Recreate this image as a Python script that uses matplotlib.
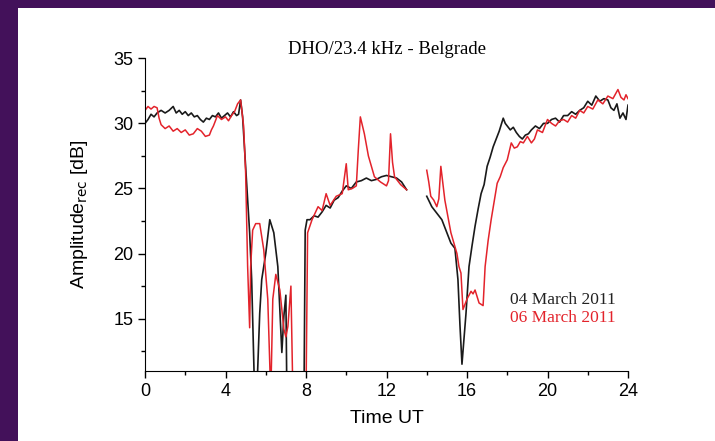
import numpy as np
import matplotlib
matplotlib.use('Agg')
import matplotlib.pyplot as plt
from matplotlib.patches import Rectangle
from matplotlib.ticker import MultipleLocator

# 04 March 2011 (black)
t_mar04 = [0.0, 0.15, 0.3, 0.45, 0.6, 0.8, 1.0, 1.2, 1.4, 1.55, 1.7, 1.85, 2.0, 2.15, 2.3, 2.45,
           2.6, 2.75, 2.9, 3.05, 3.2, 3.35, 3.5, 3.65, 3.8, 3.95, 4.1, 4.25, 4.4, 4.55, 4.65,
           4.75, 4.85, 5.0, 5.1, 5.2, 5.3, 5.45, 5.55, 5.7, 5.8, 6.0, 6.2, 6.4, 6.6, 6.8, 6.9,
           7.0, 7.05, 7.9, 7.96, 8.05, 8.2, 8.4, 8.6, 8.8, 9.0, 9.2, 9.4, 9.6, 9.8, 10.0, 10.25,
           10.5, 10.75, 11.0, 11.25, 11.5, 11.75, 12.0, 12.25, 12.5, 12.75, 13.0, 13.5,
           14.0, 14.25, 14.5, 14.75, 15.0, 15.2, 15.4, 15.55, 15.65, 15.75, 15.85, 15.95, 16.1,
           16.25, 16.4, 16.55, 16.7, 16.85, 17.0, 17.15, 17.3, 17.45, 17.6, 17.7, 17.8, 17.9,
           18.0, 18.15, 18.3, 18.45, 18.6, 18.75, 18.9, 19.05, 19.2, 19.4, 19.6, 19.8, 20.0,
           20.2, 20.4, 20.6, 20.8, 21.0, 21.2, 21.4, 21.6, 21.8, 22.0, 22.2, 22.4, 22.6, 22.8,
           23.0, 23.15, 23.3, 23.45, 23.6, 23.75, 23.9, 24.0]
y_mar04 = [30.0, 30.3, 30.7, 30.5, 30.8, 31.0, 30.8, 31.0, 31.3, 30.8, 31.0, 30.7, 30.9, 30.6,
           30.8, 30.5, 30.6, 30.3, 30.1, 30.4, 30.3, 30.6, 30.5, 30.8, 30.4, 30.6, 30.8, 30.5,
           30.9, 30.6, 30.7, 31.8, 30.5, 26.7, 24.1, 21.6, 18.0, 9.0, 9.0, 15.4, 18.0, 20.0,
           22.6, 21.6, 19.0, 12.4, 15.2, 16.8, 9.0, 9.0, 21.8, 22.6, 22.6, 22.9, 22.8, 23.2,
           23.7, 23.5, 24.1, 24.3, 24.8, 25.2, 25.0, 25.5, 25.6, 25.8, 25.6, 25.7, 25.9, 26.0,
           25.9, 25.8, 25.5, 24.9, np.nan,
           24.4, 23.6, 23.1, 22.6, 21.6, 20.8, 20.4, 18.0, 14.5, 11.5, 13.5, 15.4, 19.0,
           20.6, 22.1, 23.4, 24.6, 25.3, 26.7, 27.4, 28.2, 28.8, 29.4, 29.9, 30.4, 30.0,
           29.8, 29.5, 29.7, 29.3, 29.0, 28.8, 29.1, 29.2, 29.5, 29.8, 29.6, 30.0, 30.0,
           30.3, 30.4, 30.1, 30.6, 30.6, 30.9, 30.7, 31.0, 31.2, 31.7, 31.4, 32.1, 31.7,
           31.9, 31.8, 31.2, 31.0, 31.5, 30.4, 30.8, 30.3, 31.4]

# 06 March 2011 (red)
t_mar06 = [0.0, 0.15, 0.3, 0.45, 0.6, 0.7, 0.8, 1.0, 1.2, 1.4, 1.6, 1.8, 2.0, 2.2, 2.4, 2.6,
           2.8, 3.0, 3.2, 3.3, 3.4, 3.6, 3.8, 4.0, 4.15, 4.3, 4.45, 4.6, 4.75, 4.9, 5.0, 5.1,
           5.2, 5.25, 5.35, 5.5, 5.7, 5.9, 6.1, 6.25, 6.35, 6.5, 6.7, 6.9, 7.0, 7.1, 7.25,
           7.35, 7.95, 8.0, 8.08, 8.3, 8.6, 8.8, 9.0, 9.2, 9.5, 9.8, 10.0, 10.1, 10.3, 10.5,
           10.6, 10.7, 10.9, 11.1, 11.4, 11.7, 12.0, 12.1, 12.2, 12.3, 12.4, 12.7, 13.0, 13.5,
           14.0, 14.1, 14.2, 14.35, 14.5, 14.6, 14.7, 14.9, 15.2, 15.5, 15.6, 15.7, 15.8,
           16.0, 16.2, 16.3, 16.4, 16.6, 16.8, 16.9, 17.05, 17.2, 17.35, 17.5, 17.65, 17.8,
           18.0, 18.2, 18.35, 18.5, 18.65, 18.8, 19.0, 19.2, 19.35, 19.5, 19.75, 20.0, 20.2,
           20.4, 20.6, 20.8, 21.0, 21.2, 21.4, 21.6, 21.8, 22.0, 22.25, 22.5, 22.75, 23.0,
           23.25, 23.5, 23.65, 23.8, 23.9, 24.0]
y_mar06 = [31.0, 31.3, 31.1, 31.3, 31.2, 30.4, 29.9, 29.6, 29.8, 29.4, 29.6, 29.3, 29.5, 29.1,
           29.2, 29.6, 29.4, 29.0, 29.1, 29.5, 29.8, 30.6, 30.3, 30.5, 30.2, 30.6, 30.9, 31.5,
           31.8, 29.8, 26.2, 19.0, 14.3, 19.0, 21.8, 22.3, 22.3, 20.3, 16.5, 9.0, 16.5, 18.4,
           17.2, 14.2, 13.6, 14.4, 17.5, 9.0, 9.0, 9.0, 21.6, 22.6, 23.6, 23.3, 24.6, 23.7,
           24.4, 24.6, 26.9, 24.9, 25.0, 25.2, 28.0, 30.5, 29.2, 27.5, 25.9, 25.5, 25.2, 25.6,
           29.2, 27.0, 25.9, 25.3, 24.9, np.nan,
           26.4, 25.5, 24.4, 24.1, 23.6, 24.2, 26.7, 24.1, 21.6, 20.0, 19.0, 18.5, 15.7,
           16.5, 17.1, 16.9, 17.2, 16.2, 16.0, 19.0, 21.0, 22.6, 24.0, 25.4, 25.9, 26.6,
           27.2, 28.5, 28.1, 28.2, 28.6, 28.5, 29.0, 28.5, 28.8, 29.5, 29.3, 30.3, 30.0,
           29.8, 30.2, 30.3, 30.1, 30.6, 30.4, 31.0, 30.8, 31.3, 31.1, 31.8, 31.5, 32.1,
           31.9, 32.6, 32.0, 31.8, 32.2, 31.9]

fig = plt.figure(figsize=(7.15, 4.41), dpi=100)
fig.patch.set_facecolor('#43115a')
fig.patches.append(Rectangle((18 / 715, 0), 1, 1 - 8 / 441, transform=fig.transFigure,
                             facecolor='white', edgecolor='none', zorder=-10))

ax = fig.add_axes([145 / 715, 1 - 370.7 / 441, (628 - 145) / 715, (370.7 - 58.3) / 441])
ax.set_facecolor('white')
ax.plot(t_mar04, y_mar04, color='#1a1a1a', lw=1.2)
ax.plot(t_mar06, y_mar06, color='#e3232b', lw=1.1)

ax.set_xlim(0, 24)
ax.set_ylim(11, 35)
ax.xaxis.set_major_locator(MultipleLocator(4))
ax.xaxis.set_minor_locator(MultipleLocator(2))
ax.yaxis.set_major_locator(MultipleLocator(5))
ax.yaxis.set_minor_locator(MultipleLocator(2.5))
ax.spines['top'].set_visible(False)
ax.spines['right'].set_visible(False)
ax.tick_params(which='major', direction='out', length=5, width=1, labelsize=13)
ax.tick_params(which='minor', direction='out', length=3, width=1)

ax.set_xlabel('Time UT', fontsize=14, family='Liberation Sans')
ax.set_ylabel('Amplitude$_{\\rm rec}$ [dB]', fontsize=14, family='Liberation Sans')
ax.xaxis.set_label_coords(0.5, -0.125)
ax.yaxis.set_label_coords(-0.113, 0.5)
for lab in ax.get_xticklabels() + ax.get_yticklabels():
    lab.set_family('Liberation Sans')

ax.set_title('DHO/23.4 kHz - Belgrade', family='Liberation Serif', fontsize=13.5, pad=3)
ax.text(0.756, 0.226, '04 March 2011', transform=ax.transAxes, color='#222222',
        family='Liberation Serif', fontsize=12.5, va='center')
ax.text(0.756, 0.168, '06 March 2011', transform=ax.transAxes, color='#e3232b',
        family='Liberation Serif', fontsize=12.5, va='center')

fig.savefig('out.png', dpi=100, facecolor=fig.get_facecolor())
